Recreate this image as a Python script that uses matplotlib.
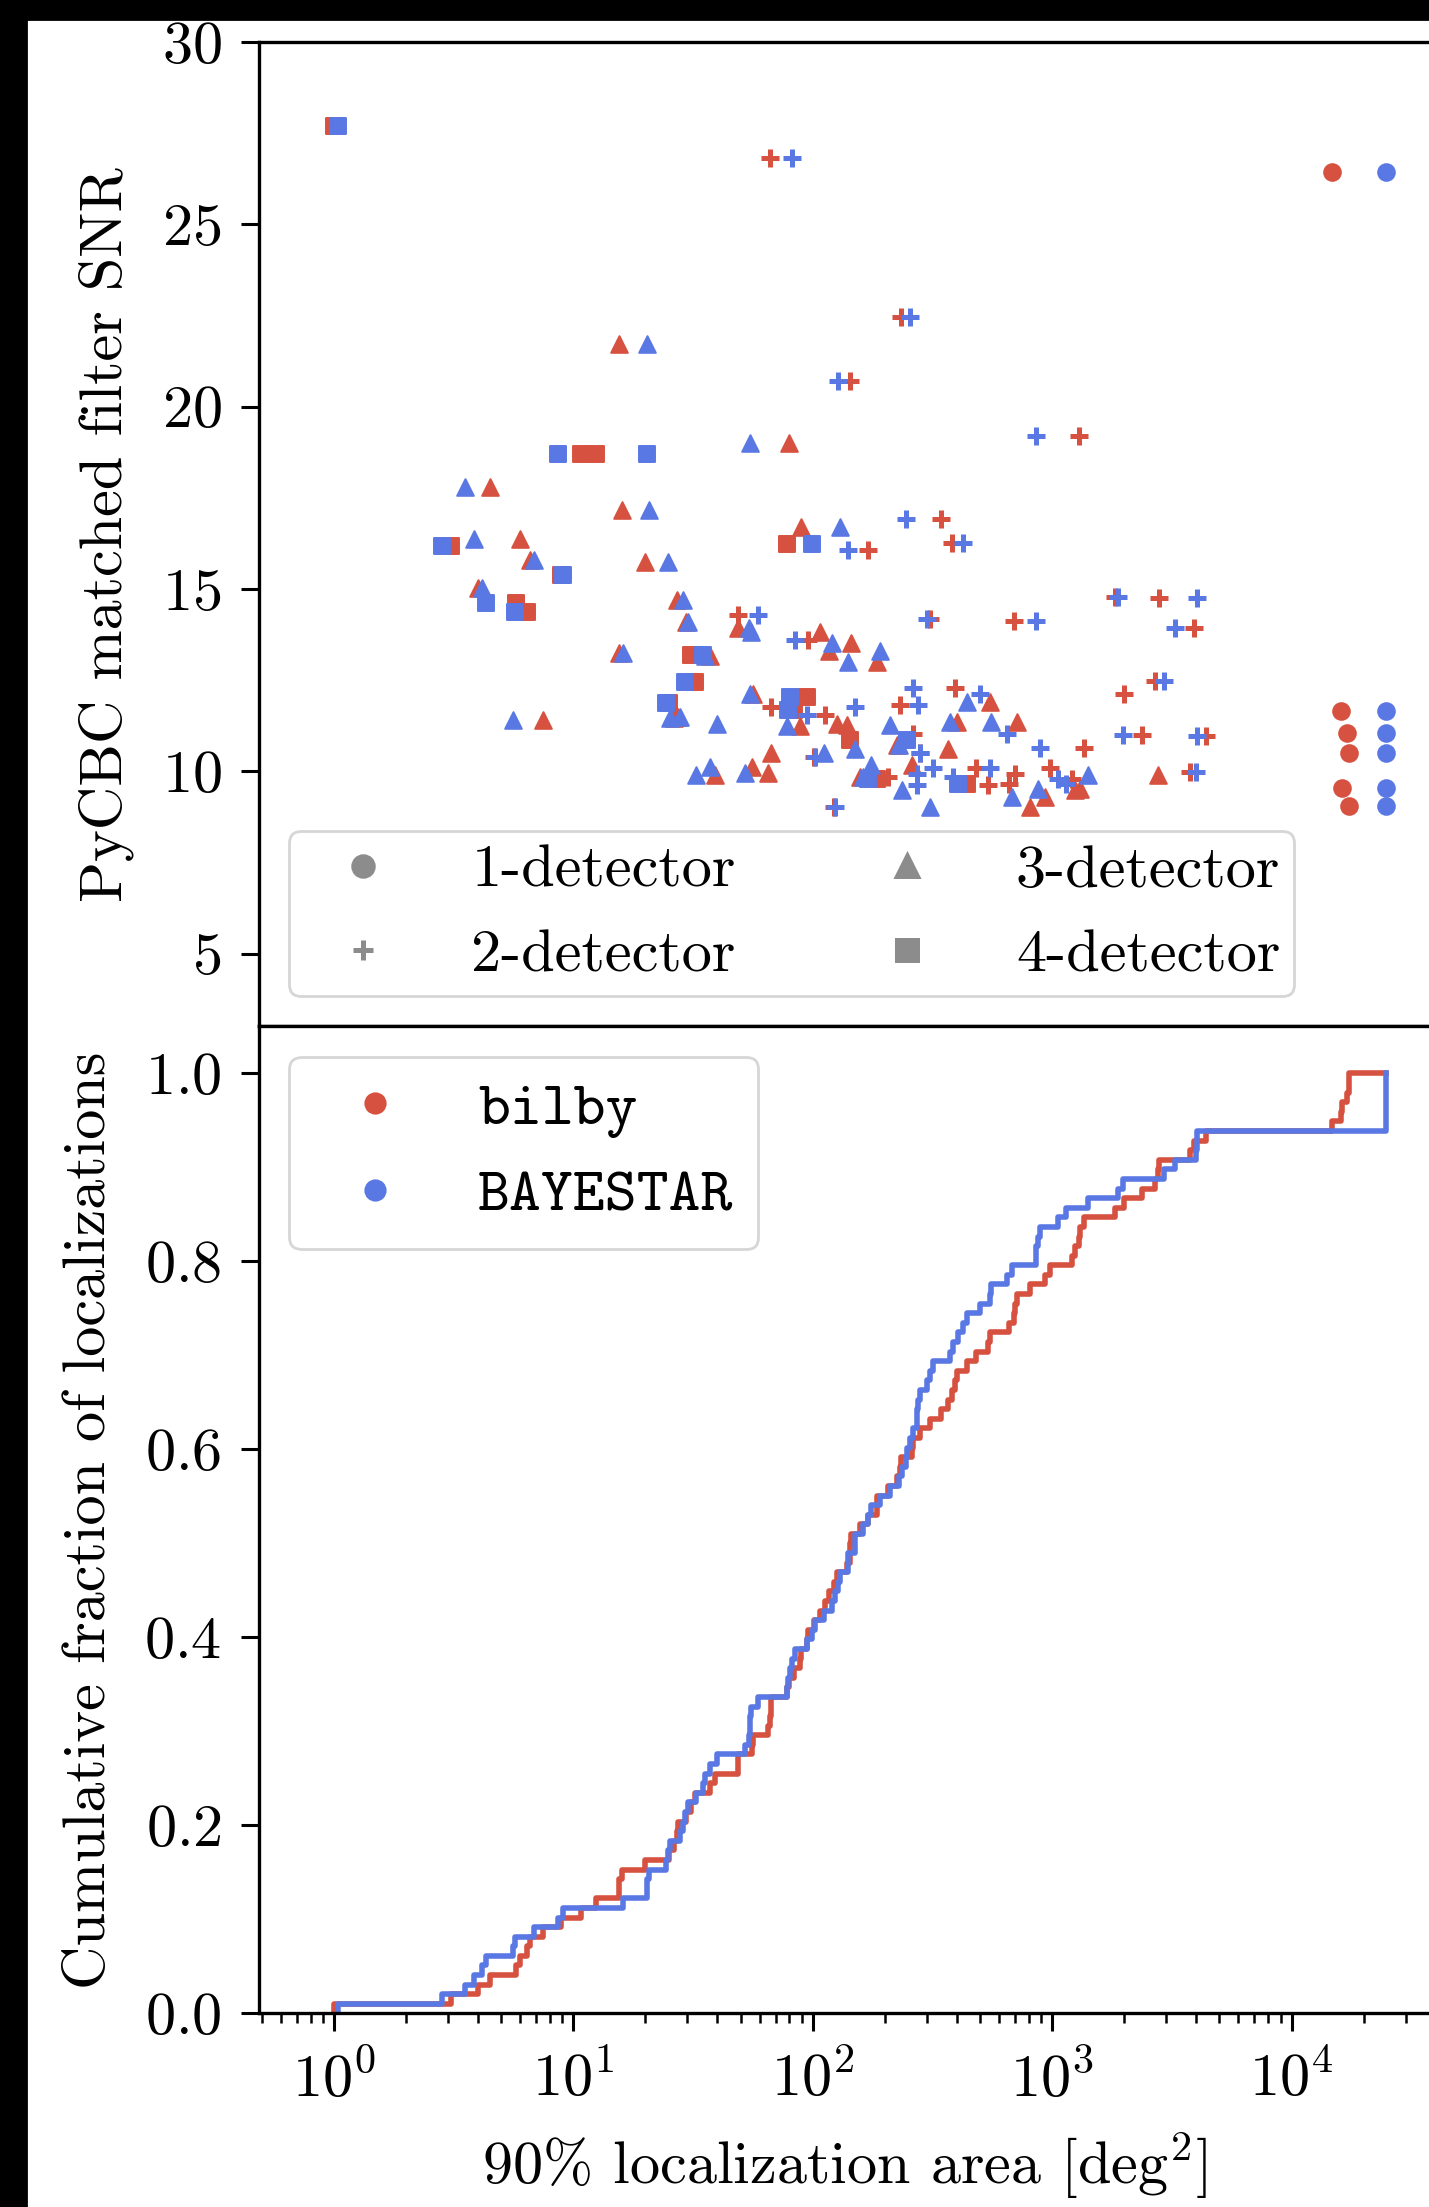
import numpy as np
import matplotlib
matplotlib.use("Agg")
import matplotlib.pyplot as plt
from matplotlib.lines import Line2D
from matplotlib.patches import Rectangle

# one entry per event: PyCBC SNR, number of detectors, 90% areas (deg^2)
snr = [
    # 1-detector
    26.42, 11.65, 11.05, 10.50, 9.55, 9.05,
    # 4-detector
    27.70, 18.70, 18.70, 16.22, 16.17, 15.38, 14.61, 14.38,
    13.19, 12.45, 11.86, 12.04, 11.68, 10.85, 9.66, 9.80,
    # 3-detector
    21.71, 19.01, 17.79, 17.17, 16.71, 16.37, 15.80, 15.75, 15.02, 14.70,
    14.10, 13.23, 13.15, 11.50, 11.45, 11.40, 11.29, 9.89, 10.12, 9.94,
    10.49, 13.92, 13.83, 13.51, 13.00, 13.30, 12.13, 11.23, 11.26, 10.60,
    10.71, 9.84, 11.90, 11.36, 11.36, 10.16, 9.89, 9.48, 9.02, 9.30, 9.50,
    # 2-detector
    26.82, 22.45, 20.70, 19.19, 16.93, 16.07, 16.25, 14.29, 13.60, 14.17,
    14.13, 14.77, 14.74, 13.92, 12.48, 12.27, 12.13, 11.81, 11.75, 11.54,
    11.00, 11.02, 10.96, 10.64, 10.49, 10.40, 10.10, 10.10, 9.98, 9.92,
    9.84, 9.80, 9.63, 9.65, 9.02,
]
n_det = [1] * 6 + [4] * 16 + [3] * 41 + [2] * 35
area_bilby = [
    14700, 16100, 17100, 17400, 16300, 17400,
    1.0, 10.8, 12.5, 78.3, 3.09, 8.93, 5.79, 6.43,
    30.9, 32.2, 25.1, 94.4, 83.2, 143, 440, 185,
    15.6, 79.8, 4.50, 16.0, 89.5, 6.00, 6.61, 19.9, 4.01, 27.0,
    29.5, 15.5, 37.2, 27.4, 26.3, 7.45, 126, 39.1, 55.6, 65.2,
    67.3, 48.9, 107, 145, 185, 117, 56.2, 88.5, 139, 369,
    224, 158, 550, 399, 711, 259, 2780, 1247, 809, 933, 1306,
    66.1, 233, 143, 1300, 344, 171, 383, 48.9, 95.7, 309,
    692, 1828, 2793, 3926, 2685, 394, 2000, 231, 67.3, 113,
    2382, 263, 4385, 1358, 282, 101, 483, 984, 3767, 700,
    207, 1208, 541, 662, 123,
]
area_bayestar = [
    24700, 24700, 24700, 24700, 24700, 24700,
    1.04, 8.65, 20.4, 98.9, 2.83, 9.08, 4.31, 5.70,
    34.7, 29.2, 24.5, 80.4, 79.1, 247, 406, 170,
    20.4, 54.5, 3.53, 20.7, 130, 3.84, 6.84, 24.9, 4.14, 28.8,
    30.2, 16.1, 35.5, 27.9, 25.4, 5.61, 39.7, 32.7, 37.2, 52.1,
    112, 54.3, 55.0, 120, 141, 191, 54.7, 77.8, 210, 150,
    229, 163, 440, 374, 558, 176, 1416, 236, 309, 678, 875,
    81.8, 255, 128, 853, 245, 140, 423, 59.2, 84.3, 299,
    855, 1888, 4036, 3258, 2931, 263, 499, 276, 150, 94.4,
    1972, 646, 4036, 889, 281, 102, 550, 319, 3981, 272,
    387, 1062, 272, 1143, 124,
]

RED = "#d6513f"
BLUE = "#5a78e3"
markers = {1: "o", 2: "+", 3: "^", 4: "s"}

plt.rcParams["font.family"] = "cmr10"
plt.rcParams["mathtext.fontset"] = "cm"
plt.rcParams["axes.formatter.use_mathtext"] = True
plt.rcParams["font.size"] = 21.7
plt.rcParams["axes.linewidth"] = 1.2

snr = np.array(snr)
n_det = np.array(n_det)
area_bilby = np.array(area_bilby)
area_bayestar = np.array(area_bayestar)

fig = plt.figure(figsize=(7.145, 11.035), dpi=200)
ax1 = fig.add_axes([0.1813, 0.5349, 0.8187, 0.4461])
ax2 = fig.add_axes([0.1813, 0.0877, 0.8187, 0.4472], sharex=ax1)

# scatter: bilby below, BAYESTAR on top
for area, col, z in [(area_bilby, RED, 2), (area_bayestar, BLUE, 3)]:
    for k, m in markers.items():
        sel = n_det == k
        if m == "+":
            ax1.scatter(area[sel], snr[sel], marker=m, s=40, c=col,
                        linewidths=1.8, zorder=z)
        else:
            ax1.scatter(area[sel], snr[sel], marker=m, s=36, c=col,
                        edgecolors=col, linewidths=0.7, zorder=z)

ax1.set_xscale("log")
ax1.set_xlim(10 ** -0.312, 10 ** 4.574)
ax1.set_ylim(3, 30)
ax1.set_yticks([5, 10, 15, 20, 25, 30])
ax1.set_ylabel("PyCBC matched filter SNR", labelpad=10)

hs = [Line2D([], [], ls="none", marker=markers[k], color="0.55",
             markersize=7, markeredgewidth=1.8, label=f"{k}-detector")
      for k in (1, 2, 3, 4)]
ax1.legend(handles=hs, ncol=2, loc="lower left", borderpad=0.22,
           labelspacing=0.5, columnspacing=1.85)

# cumulative distributions
xmax = max(area_bilby.max(), area_bayestar.max())
for area, col in [(area_bilby, RED), (area_bayestar, BLUE)]:
    xs = np.sort(area)
    ys = np.arange(1, len(xs) + 1) / len(xs)
    xs = np.concatenate([[xs[0]], xs, [xmax]])
    ys = np.concatenate([[0], ys, [1.0]])
    ax2.plot(xs, ys, drawstyle="steps-post", color=col, lw=2.0)

ax2.set_ylim(0, 1.05)
ax2.set_yticks([0.0, 0.2, 0.4, 0.6, 0.8, 1.0])
ax2.set_ylabel("Cumulative fraction of localizations", labelpad=10)
ax2.set_xlabel(r"90% localization area [deg$^2$]", labelpad=8)

hs2 = [Line2D([], [], ls="none", marker="o", color=RED, markersize=7, label="bilby"),
       Line2D([], [], ls="none", marker="o", color=BLUE, markersize=7, label="BAYESTAR")]
ax2.legend(handles=hs2, loc="upper left", labelspacing=0.5, handletextpad=0.7,
           prop={"family": "cmtt10", "size": 21.9})

for ax in (ax1, ax2):
    ax.spines["right"].set_visible(False)
    ax.tick_params(which="major", direction="out", length=6.5, width=1.1, pad=7)
    ax.tick_params(which="minor", direction="out", length=3.5, width=0.9)
ax1.tick_params(axis="x", which="both", bottom=False, labelbottom=False)

# black screenshot borders
fig.add_artist(Rectangle((0, 1 - 0.0086), 1, 0.0086, transform=fig.transFigure,
                         color="black", zorder=10))
fig.add_artist(Rectangle((0, 0), 0.0182, 1, transform=fig.transFigure,
                         color="black", zorder=10))

fig.savefig("out.png", dpi=200)
